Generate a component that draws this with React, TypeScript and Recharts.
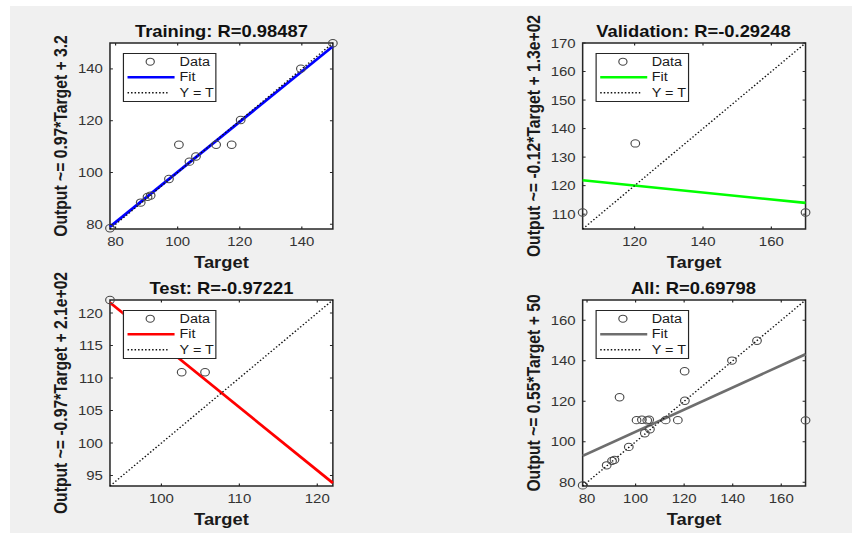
import React from 'react';
import {
  ScatterChart,
  Scatter,
  XAxis,
  YAxis,
  CartesianGrid,
  ReferenceLine,
  ReferenceArea,
} from 'recharts';

const FONT = '"Liberation Sans", Arial, Helvetica, sans-serif';

// ---- data: targets and network outputs per subset ----
const trainTarget = [78.2, 88.1, 90.3, 91.3, 97.2, 100.4, 103.8, 105.9, 112.4, 117.4, 120.3, 139.7, 150.0];
const trainOutput = [78.5, 88.4, 90.6, 91.1, 97.5, 110.7, 104.2, 106.2, 110.7, 110.7, 120.3, 140.1, 149.9];

const valTarget = [104.8, 120.2, 170.0];
const valOutput = [110.6, 134.8, 110.6];

const testTarget = [93.4, 102.6, 105.6];
const testOutput = [122.0, 110.9, 110.9];

const allTarget = [...trainTarget, ...valTarget, ...testTarget];
const allOutput = [...trainOutput, ...valOutput, ...testOutput];

// correlation and linear fit (Output ~= slope*Target + intercept) per subset
const PANEL_NAMES = ['Training', 'Validation', 'Test', 'All'];
const R_VALUES = ['0.98487', '-0.29248', '-0.97221', '0.69798'];
const FIT_SLOPES = [0.97, -0.1215, -0.97, 0.546];
const FIT_INTERCEPTS = [3.2, 134.6, 212.2, 50.4];
const FIT_COLORS = ['#0000ff', '#00ff00', '#ff0000', '#6e6e6e'];

// tick values
const trainXTicks = [80, 100, 120, 140];
const trainYTicks = [80, 100, 120, 140];
const valXTicks = [120, 140, 160];
const valYTicks = [110, 120, 130, 140, 150, 160, 170];
const testXTicks = [100, 110, 120];
const testYTicks = [95, 100, 105, 110, 115, 120];
const allXTicks = [80, 100, 120, 140, 160];
const allYTicks = [80, 100, 120, 140, 160];

// ---- layout ----
const S = 1.17; // horizontal stretch of the whole figure
const MT = 43;
const ML = 10;
const YW = 84;
const BOX_W = 190.5;
const BOX_H = 186;
const XH = 40;
const MR = 20;
const MB = 8;
const CW = ML + YW + BOX_W + MR;
const CH = MT + BOX_H + XH + MB;
const TICK = 2.5;
const AXIS_COLOR = '#262626';
const BOLD_SIZE = 15.7;
const TICK_SIZE = 12.8;

// MATLAB-style num2str(v, 2) -> '%.2g'
const g2 = (v: number) =>
  v.toPrecision(2).replace(/e([+-])(\d)$/, (_m, sign, d) => `e${sign}0${d}`);

type PanelDef = {
  name: string;
  r: string;
  target: number[];
  output: number[];
  slope: number;
  intercept: number;
  color: string;
  xTicks: number[];
  yTicks: number[];
  left: number;
  top: number;
};

const targets = [trainTarget, valTarget, testTarget, allTarget];
const outputs = [trainOutput, valOutput, testOutput, allOutput];
const xTickSets = [trainXTicks, valXTicks, testXTicks, allXTicks];
const yTickSets = [trainYTicks, valYTicks, testYTicks, allYTicks];
const panelPos = [
  [0, 0],
  [403.5, 0],
  [0, 257],
  [403.5, 257],
];

const panels: PanelDef[] = PANEL_NAMES.map((name, i) => ({
  name,
  r: R_VALUES[i],
  target: targets[i],
  output: outputs[i],
  slope: FIT_SLOPES[i],
  intercept: FIT_INTERCEPTS[i],
  color: FIT_COLORS[i],
  xTicks: xTickSets[i],
  yTicks: yTickSets[i],
  left: panelPos[i][0],
  top: panelPos[i][1],
}));

const box = {
  left: ML + YW,
  right: ML + YW + BOX_W,
  top: MT,
  bottom: MT + BOX_H,
};

const XTick = (props: any) => {
  const { x, y, payload } = props;
  const c = payload && payload.coordinate != null ? payload.coordinate : x;
  return (
    <g>
      <line x1={c} x2={c} y1={box.bottom} y2={box.bottom - TICK} stroke={AXIS_COLOR} strokeWidth={1} />
      <line x1={c} x2={c} y1={box.top} y2={box.top + TICK} stroke={AXIS_COLOR} strokeWidth={1} />
      <text
        x={x}
        y={y}
        dy="0.71em"
        textAnchor="middle"
        fill="#333"
        fontSize={TICK_SIZE}
        fontFamily={FONT}
      >
        {payload.value}
      </text>
    </g>
  );
};

const YTick = (props: any) => {
  const { x, y, payload } = props;
  const c = payload && payload.coordinate != null ? payload.coordinate : y;
  return (
    <g>
      <line x1={box.left} x2={box.left + TICK} y1={c} y2={c} stroke={AXIS_COLOR} strokeWidth={1} />
      <line x1={box.right} x2={box.right - TICK} y1={c} y2={c} stroke={AXIS_COLOR} strokeWidth={1} />
      <text
        x={x}
        y={y}
        dy="0.355em"
        textAnchor="end"
        fill="#333"
        fontSize={TICK_SIZE}
        fontFamily={FONT}
      >
        {payload.value}
      </text>
    </g>
  );
};

const OpenCircle = (props: any) => {
  const { cx, cy } = props;
  if (cx == null || cy == null) return null;
  return <circle cx={cx} cy={cy} r={3.7} fill="none" stroke="#4a4a4a" strokeWidth={1} />;
};

function LegendBox({ color, left, top }: { color: string; left: number; top: number }) {
  const row = (text: string, cy: number) => (
    <div
      style={{
        position: 'absolute',
        left: 47.4,
        top: cy - 7,
        lineHeight: '14px',
        fontSize: 12.3,
        whiteSpace: 'nowrap',
      }}
    >
      {text}
    </div>
  );
  return (
    <div
      style={{
        position: 'absolute',
        left,
        top,
        width: 80.3,
        height: 49,
        boxSizing: 'border-box',
        background: '#fff',
        border: `1.4px solid ${AXIS_COLOR}`,
        fontFamily: FONT,
        color: '#1a1a1a',
      }}
    >
      <svg width={78} height={47} style={{ position: 'absolute', left: 0, top: 0 }}>
        <circle cx={22.4} cy={7.7} r={3.5} fill="none" stroke="#4a4a4a" strokeWidth={1} />
        <line x1={3} x2={43.2} y1={23.3} y2={23.3} stroke={color} strokeWidth={2.6} />
        <line x1={3} x2={37.2} y1={38.7} y2={38.7} stroke="#111" strokeWidth={1.4} strokeDasharray="1.3 1.7" />
      </svg>
      {row('Data', 7.7)}
      {row('Fit', 23.3)}
      {row('Y = T', 38.7)}
    </div>
  );
}

function Panel({ p }: { p: PanelDef }) {
  const lo = Math.min(...p.target, ...p.output);
  const hi = Math.max(...p.target, ...p.output);
  const pts = p.target.map((t, i) => ({ x: t, y: p.output[i] }));
  const fit = (t: number) => p.slope * t + p.intercept;
  const ylabel = `Output ~= ${g2(p.slope)}*Target + ${g2(p.intercept)}`;

  return (
    <div style={{ position: 'absolute', left: p.left, top: p.top, width: CW, height: CH }}>
      <div
        style={{
          position: 'absolute',
          left: box.left - 20,
          width: BOX_W + 40,
          top: MT - 20.5,
          lineHeight: '17px',
          textAlign: 'center',
          fontFamily: FONT,
          fontSize: BOLD_SIZE,
          fontWeight: 700,
          color: '#111',
          whiteSpace: 'nowrap',
        }}
      >
        {`${p.name}: R=${p.r}`}
      </div>
      <ScatterChart width={CW} height={CH} margin={{ top: MT, right: MR, bottom: MB, left: ML }}>
        <CartesianGrid horizontal={false} vertical={false} fill="#ffffff" stroke="none" />
        <XAxis
          type="number"
          dataKey="x"
          domain={[lo, hi]}
          ticks={p.xTicks}
          interval={0}
          height={XH}
          tickSize={0}
          tickMargin={8}
          axisLine={false}
          tickLine={false}
          tick={(props: any) => <XTick {...props} />}
          label={{
            value: 'Target',
            position: 'insideBottom',
            offset: 1,
            style: { fontSize: BOLD_SIZE, fontWeight: 700, fill: '#1a1a1a', fontFamily: FONT },
          }}
        />
        <YAxis
          type="number"
          dataKey="y"
          domain={[lo, hi]}
          ticks={p.yTicks}
          interval={0}
          width={YW}
          tickSize={0}
          tickMargin={6}
          axisLine={false}
          tickLine={false}
          tick={(props: any) => <YTick {...props} />}
          label={{
            value: ylabel,
            angle: -90,
            position: 'center',
            style: { fontSize: BOLD_SIZE, fontWeight: 700, fill: '#1a1a1a', fontFamily: FONT },
          }}
        />
        <Scatter data={pts} shape={(props: any) => <OpenCircle {...props} />} isAnimationActive={false} />
        <ReferenceLine
          segment={[
            { x: lo, y: fit(lo) },
            { x: hi, y: fit(hi) },
          ]}
          stroke={p.color}
          strokeWidth={2.6}
          ifOverflow="visible"
        />
        <ReferenceLine
          segment={[
            { x: lo, y: lo },
            { x: hi, y: hi },
          ]}
          stroke="#111"
          strokeWidth={1.3}
          strokeDasharray="1.3 1.9"
          ifOverflow="visible"
        />
        <ReferenceArea
          x1={lo}
          x2={hi}
          y1={lo}
          y2={hi}
          fill="none"
          stroke={AXIS_COLOR}
          strokeWidth={1.3}
          ifOverflow="visible"
        />
      </ScatterChart>
      <LegendBox color={p.color} left={box.left + 11.1} top={MT + 10} />
    </div>
  );
}

export default function App() {
  return (
    <div
      style={{
        position: 'absolute',
        left: 0,
        top: 0,
        width: 852,
        height: 533,
        overflow: 'hidden',
        background: '#ffffff',
      }}
    >
      <div
        style={{
          position: 'absolute',
          left: 10,
          top: 6,
          width: 842,
          height: 527,
          background: '#f0f0f0',
        }}
      />
      <div
        style={{
          position: 'absolute',
          left: 0,
          top: 0,
          width: 852 / S,
          height: 533,
          transform: `scaleX(${S})`,
          transformOrigin: '0 0',
        }}
      >
        {panels.map((p) => (
          <Panel key={p.name} p={p} />
        ))}
      </div>
    </div>
  );
}
